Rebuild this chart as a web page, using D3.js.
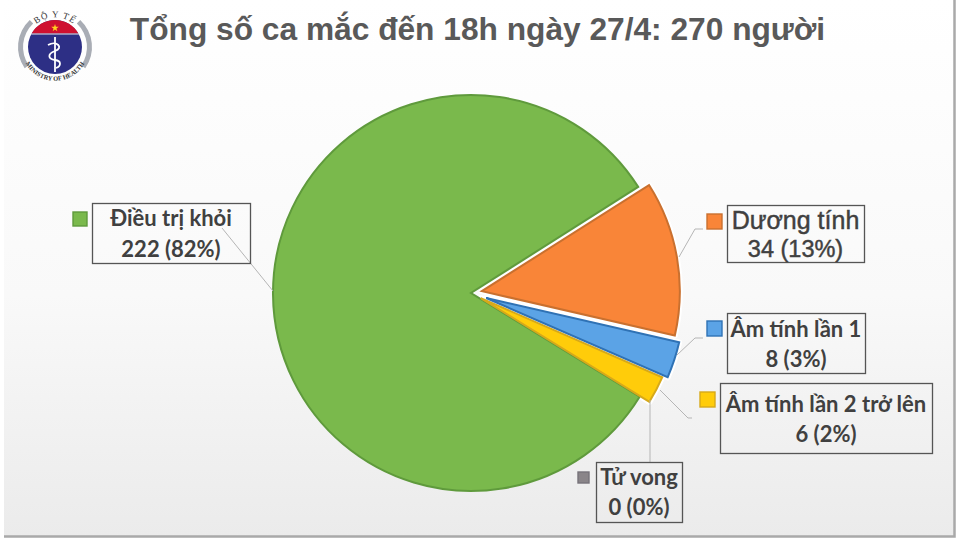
<!DOCTYPE html>
<html><head><meta charset="utf-8">
<script src="https://cdn.jsdelivr.net/npm/d3@7"></script>
<style>html,body{margin:0;padding:0;background:#fff}svg{display:block}</style>
</head><body><svg id="c" width="960" height="543"></svg>
<script>
const title = "Tổng số ca mắc đến 18h ngày 27/4: 270 người";
const categories = ["Dương tính","Âm tính lần 1","Âm tính lần 2 trở lên","Điều trị khỏi","Tử vong"];
const values = [34,8,6,222,0];
const percents = ["13%","3%","2%","82%","0%"];
const colors = ["#f98538","#5ba3e6","#ffcc0a","#7ab94c","#8a8589"];
const strokes = ["#c9702f","#2f72b5","#d6a91a","#5f9a3c","#77737a"];
const explode = [11,16,11,0,0];
// label layout: box x,y,w,h; key x,y,size; leader polyline; font sizes; baselines
const layout = [
 {box:[727,205,137,57],key:[707,214,15],line:[[679,257],[695,229],[703,229]],fs:[25,23.5],base:[229,257],face:"'Liberation Sans',sans-serif"},
 {box:[727,313,138,60],key:[707,321,15],line:[[677,355],[695,338],[703,338]],fs:[22,22],base:[337,367],face:"Lato,sans-serif"},
 {box:[720,383,212,70],key:[700,392,15],line:[[660,390],[688,418],[692,418]],fs:[22,22],base:[412,442],face:"Lato,sans-serif"},
 {box:[92,203,158,60],key:[73,212,14],line:[[273,291],[222,228]],fs:[22,22],base:[226,257],face:"Lato,sans-serif"},
 {box:[596,462,86,60],key:[578,472,11],line:[[650,400],[650,462]],fs:[22,22],base:[485,515],face:"Lato,sans-serif"}
];
const svg = d3.select("#c");
const defs = svg.append("defs");
const g = defs.append("linearGradient").attr("id","bg").attr("x1",0).attr("y1",0).attr("x2",0).attr("y2",1);
g.append("stop").attr("offset","0").attr("stop-color","#ffffff");
g.append("stop").attr("offset","0.55").attr("stop-color","#f9f9f9");
g.append("stop").attr("offset","1").attr("stop-color","#ebebeb");
svg.append("rect").attr("width",960).attr("height",543).attr("fill","#fff");
svg.append("rect").attr("x",4).attr("y",0).attr("width",950).attr("height",536).attr("fill","url(#bg)");
svg.append("path").attr("d","M4,536.5H954.5V0").attr("fill","none").attr("stroke","#a9a9a9").attr("stroke-width",2.5);

const font = "'Liberation Sans',Arial,sans-serif";
svg.append("text").attr("x",477.5).attr("y",40).attr("text-anchor","middle")
  .attr("font-family",font).attr("font-weight","bold").attr("font-size",31.7).attr("fill","#595959").text(title);

// pie
const cx=471, cy=293, R=198;
const start = 57.6*Math.PI/180;
const pie = d3.pie().sort(null).value(d=>d).startAngle(start).endAngle(start+2*Math.PI);
const arc = d3.arc().innerRadius(0).outerRadius(R);
const arcs = pie(values).filter(d=>d.value>0);
const shift = d=>{const i=d.index,a=(d.startAngle+d.endAngle)/2;return `translate(${Math.sin(a)*explode[i]},${-Math.cos(a)*explode[i]})`;};
const gp = svg.append("g").attr("transform",`translate(${cx},${cy})`);
const ordered = arcs.slice().sort((a,b)=>explode[a.index]-explode[b.index]);
ordered.forEach(d=>{
  const i=d.index;
  if(explode[i]>0) gp.append("path").datum(d).attr("d",arc).attr("transform",shift(d))
    .attr("fill","#fff").attr("stroke","#fff").attr("stroke-width",6).attr("stroke-linejoin","round");
});
ordered.forEach(d=>{
  const i=d.index;
  gp.append("path").datum(d).attr("d",arc).attr("transform",shift(d))
    .attr("fill",colors[i]).attr("stroke",strokes[i]).attr("stroke-width",2).attr("stroke-linejoin","miter");
});

// leader lines
svg.selectAll("path.leader").data(layout).join("path").attr("class","leader")
  .attr("d",d=>d3.line()(d.line)).attr("fill","none").attr("stroke","#b5b5b5").attr("stroke-width",1);

// label boxes
const lg = svg.selectAll("g.label").data(categories).join("g").attr("class","label");
lg.append("rect").attr("x",(d,i)=>layout[i].box[0]+.5).attr("y",(d,i)=>layout[i].box[1]+.5)
  .attr("width",(d,i)=>layout[i].box[2]).attr("height",(d,i)=>layout[i].box[3])
  .attr("fill","none").attr("stroke","#555").attr("stroke-width",1.3);
lg.append("rect").attr("x",(d,i)=>layout[i].key[0]).attr("y",(d,i)=>layout[i].key[1])
  .attr("width",(d,i)=>layout[i].key[2]).attr("height",(d,i)=>layout[i].key[2])
  .attr("fill",(d,i)=>colors[i]).attr("stroke",(d,i)=>strokes[i]).attr("stroke-width",1.4);
[0,1].forEach(row=>{
  lg.append("text").attr("x",(d,i)=>layout[i].box[0]+layout[i].box[2]/2).attr("y",(d,i)=>layout[i].base[row])
    .attr("text-anchor","middle").attr("font-family",(d,i)=>layout[i].face).attr("font-weight",(d,i)=>i===0?"normal":"bold")
    .attr("font-size",(d,i)=>layout[i].fs[row]).attr("fill","#404040")
    .attr("stroke",(d,i)=>i===0?"#404040":"none").attr("stroke-width",.45)
    .text((d,i)=>row===0?d:`${values[i]} (${percents[i]})`);
});

// logo
const lc = svg.append("g").attr("transform","translate(55,47)");
const ring = d3.arc().innerRadius(32).outerRadius(37);
const rad = x=>x*Math.PI/180;
lc.append("path").attr("d",ring({startAngle:rad(43),endAngle:rad(125)})).attr("fill","#a9adb5");
lc.append("path").attr("d",ring({startAngle:rad(-125),endAngle:rad(-43)})).attr("fill","#a9adb5");
lc.append("circle").attr("r",27).attr("fill","#2d2f85");
lc.append("path").attr("d","M-23.4,-13.5A27,27 0 0 1 23.4,-13.5Z").attr("fill","#cf1030");
lc.append("path").attr("d","M-23.5,-13H23.5").attr("stroke","#e9e9e9").attr("stroke-width",1.2);
lc.append("path").attr("d",d3.symbol(d3.symbolStar,18)).attr("transform","translate(0,-19)").attr("fill","#ffd21f");
lc.append("path").attr("d","M0,-10V25").attr("stroke","#fff").attr("stroke-width",1.8);
lc.append("path").attr("d","M-7,-2C2,-7 9,1 0,4C-8,7 -7,12 0,13C7,14 6,19 1,21").attr("fill","none").attr("stroke","#fff").attr("stroke-width",1.8);
lc.append("path").attr("id","ringTop").attr("d","M-29,-6A29.6,29.6 0 0 1 29,-6").attr("fill","none");
lc.append("path").attr("id","ringBot").attr("d","M-33,6A33.5,33.5 0 0 0 33,6").attr("fill","none");
lc.append("text").attr("font-family","'Liberation Serif',serif").attr("font-size",9).attr("letter-spacing",1).attr("fill","#333").append("textPath")
  .attr("href","#ringTop").attr("startOffset","50%").attr("text-anchor","middle").text("BỘ Y TẾ");
lc.append("text").attr("font-family","'Liberation Serif',serif").attr("font-size",6.4).attr("fill","#333").attr("font-weight","bold").append("textPath")
  .attr("href","#ringBot").attr("startOffset","50%").attr("text-anchor","middle").text("MINISTRY OF HEALTH");
</script></body></html>
